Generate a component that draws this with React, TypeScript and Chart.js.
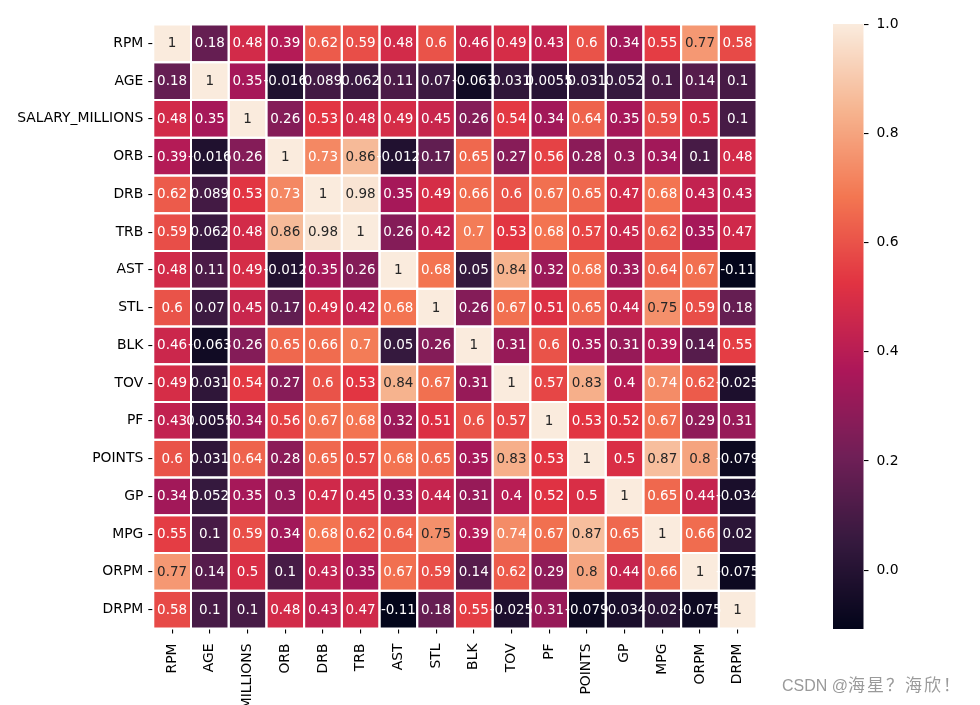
import React, { useEffect, useRef } from "react";
import { Chart, registerables } from "chart.js";

Chart.register(...registerables);

// ---------- data ----------
const variables = [
  "RPM", "AGE", "SALARY_MILLIONS", "ORB", "DRB", "TRB", "AST", "STL",
  "BLK", "TOV", "PF", "POINTS", "GP", "MPG", "ORPM", "DRPM",
];

const rowRPM = [1, 0.18, 0.48, 0.39, 0.62, 0.59, 0.48, 0.6, 0.46, 0.49, 0.43, 0.6, 0.34, 0.55, 0.77, 0.58];
const rowAGE = [0.18, 1, 0.35, -0.016, 0.089, 0.062, 0.11, 0.07, -0.063, 0.031, 0.0055, 0.031, 0.052, 0.1, 0.14, 0.1];
const rowSALARY = [0.48, 0.35, 1, 0.26, 0.53, 0.48, 0.49, 0.45, 0.26, 0.54, 0.34, 0.64, 0.35, 0.59, 0.5, 0.1];
const rowORB = [0.39, -0.016, 0.26, 1, 0.73, 0.86, -0.012, 0.17, 0.65, 0.27, 0.56, 0.28, 0.3, 0.34, 0.1, 0.48];
const rowDRB = [0.62, 0.089, 0.53, 0.73, 1, 0.98, 0.35, 0.49, 0.66, 0.6, 0.67, 0.65, 0.47, 0.68, 0.43, 0.43];
const rowTRB = [0.59, 0.062, 0.48, 0.86, 0.98, 1, 0.26, 0.42, 0.7, 0.53, 0.68, 0.57, 0.45, 0.62, 0.35, 0.47];
const rowAST = [0.48, 0.11, 0.49, -0.012, 0.35, 0.26, 1, 0.68, 0.05, 0.84, 0.32, 0.68, 0.33, 0.64, 0.67, -0.11];
const rowSTL = [0.6, 0.07, 0.45, 0.17, 0.49, 0.42, 0.68, 1, 0.26, 0.67, 0.51, 0.65, 0.44, 0.75, 0.59, 0.18];
const rowBLK = [0.46, -0.063, 0.26, 0.65, 0.66, 0.7, 0.05, 0.26, 1, 0.31, 0.6, 0.35, 0.31, 0.39, 0.14, 0.55];
const rowTOV = [0.49, 0.031, 0.54, 0.27, 0.6, 0.53, 0.84, 0.67, 0.31, 1, 0.57, 0.83, 0.4, 0.74, 0.62, -0.025];
const rowPF = [0.43, 0.0055, 0.34, 0.56, 0.67, 0.68, 0.32, 0.51, 0.6, 0.57, 1, 0.53, 0.52, 0.67, 0.29, 0.31];
const rowPOINTS = [0.6, 0.031, 0.64, 0.28, 0.65, 0.57, 0.68, 0.65, 0.35, 0.83, 0.53, 1, 0.5, 0.87, 0.8, -0.079];
const rowGP = [0.34, 0.052, 0.35, 0.3, 0.47, 0.45, 0.33, 0.44, 0.31, 0.4, 0.52, 0.5, 1, 0.65, 0.44, -0.034];
const rowMPG = [0.55, 0.1, 0.59, 0.34, 0.68, 0.62, 0.64, 0.75, 0.39, 0.74, 0.67, 0.87, 0.65, 1, 0.66, 0.02];
const rowORPM = [0.77, 0.14, 0.5, 0.1, 0.43, 0.35, 0.67, 0.59, 0.14, 0.62, 0.29, 0.8, 0.44, 0.66, 1, -0.075];
const rowDRPM = [0.58, 0.1, 0.1, 0.48, 0.43, 0.47, -0.11, 0.18, 0.55, -0.025, 0.31, -0.079, -0.034, 0.02, -0.075, 1];

const matrix = [
  rowRPM, rowAGE, rowSALARY, rowORB, rowDRB, rowTRB, rowAST, rowSTL,
  rowBLK, rowTOV, rowPF, rowPOINTS, rowGP, rowMPG, rowORPM, rowDRPM,
];

const colorbarTicks = [0, 0.2, 0.4, 0.6, 0.8, 1.0];
const V_MIN = -0.107;
const V_MAX = 1.0;

// ---------- colour map (seaborn "rocket") ----------
const rocket: [number, [number, number, number]][] = [
  [0 / 7, [3, 5, 26]],
  [1 / 7, [53, 25, 62]],
  [2 / 7, [112, 31, 87]],
  [3 / 7, [173, 23, 89]],
  [4 / 7, [225, 51, 66]],
  [5 / 7, [243, 118, 81]],
  [6 / 7, [246, 180, 143]],
  [7 / 7, [250, 235, 221]],
];

function rocketRGB(v: number): [number, number, number] {
  let t = (v - V_MIN) / (V_MAX - V_MIN);
  t = Math.max(0, Math.min(1, t));
  for (let i = 1; i < rocket.length; i++) {
    const [t1, c1] = rocket[i];
    const [t0, c0] = rocket[i - 1];
    if (t <= t1) {
      const f = (t - t0) / (t1 - t0);
      return [
        c0[0] + (c1[0] - c0[0]) * f,
        c0[1] + (c1[1] - c0[1]) * f,
        c0[2] + (c1[2] - c0[2]) * f,
      ];
    }
  }
  return rocket[rocket.length - 1][1];
}

function rgbStr(c: [number, number, number]) {
  return `rgb(${Math.round(c[0])},${Math.round(c[1])},${Math.round(c[2])})`;
}

function luminance(c: [number, number, number]) {
  const lin = (x: number) => {
    const s = x / 255;
    return s <= 0.03928 ? s / 12.92 : Math.pow((s + 0.055) / 1.055, 2.4);
  };
  return 0.2126 * lin(c[0]) + 0.7152 * lin(c[1]) + 0.0722 * lin(c[2]);
}

function fmt2g(v: number) {
  return String(Number(v.toPrecision(2)));
}

const FONT = "'DejaVu Sans', sans-serif";

// ---------- plugins ----------
const heatmapPlugin = {
  id: "heatmapCells",
  beforeDatasetsDraw(chart: any) {
    const ctx = chart.ctx;
    const xs = chart.scales.x;
    const ys = chart.scales.y;
    const pts = chart.data.datasets[0].data as any[];
    ctx.save();
    for (const p of pts) {
      const x0 = xs.getPixelForValue(p.x - 0.5);
      const x1 = xs.getPixelForValue(p.x + 0.5);
      const y0 = ys.getPixelForValue(p.y - 0.5);
      const y1 = ys.getPixelForValue(p.y + 0.5);
      ctx.fillStyle = rgbStr(rocketRGB(p.v));
      ctx.fillRect(Math.min(x0, x1), Math.min(y0, y1), Math.abs(x1 - x0), Math.abs(y1 - y0));
    }
    ctx.strokeStyle = "#ffffff";
    ctx.lineWidth = 2;
    for (const p of pts) {
      const x0 = xs.getPixelForValue(p.x - 0.5);
      const x1 = xs.getPixelForValue(p.x + 0.5);
      const y0 = ys.getPixelForValue(p.y - 0.5);
      const y1 = ys.getPixelForValue(p.y + 0.5);
      ctx.strokeRect(Math.min(x0, x1), Math.min(y0, y1), Math.abs(x1 - x0), Math.abs(y1 - y0));
    }
    ctx.restore();
  },
  afterDatasetsDraw(chart: any) {
    const ctx = chart.ctx;
    const xs = chart.scales.x;
    const ys = chart.scales.y;
    const pts = chart.data.datasets[0].data as any[];
    ctx.save();
    ctx.font = `13.5px ${FONT}`;
    ctx.textAlign = "center";
    ctx.textBaseline = "middle";
    for (const p of pts) {
      const c = rocketRGB(p.v);
      ctx.fillStyle = luminance(c) > 0.4 ? "#262626" : "#ffffff";
      ctx.fillText(fmt2g(p.v), xs.getPixelForValue(p.x), ys.getPixelForValue(p.y) + 0.5);
    }
    ctx.restore();
  },
};

const colorbarPlugin = {
  id: "colorbarFill",
  beforeDatasetsDraw(chart: any) {
    const ctx = chart.ctx;
    const ys = chart.scales.y;
    const area = chart.chartArea;
    ctx.save();
    const top = Math.floor(area.top);
    const bottom = Math.ceil(area.bottom);
    for (let py = top; py < bottom; py++) {
      const v = ys.getValueForPixel(py + 0.5);
      ctx.fillStyle = rgbStr(rocketRGB(v));
      ctx.fillRect(area.left, py, area.right - area.left, 1);
    }
    ctx.restore();
  },
};

const tickFont = { family: FONT, size: 13.9 };

export default function App() {
  const mainRef = useRef<HTMLCanvasElement>(null);
  const barRef = useRef<HTMLCanvasElement>(null);

  useEffect(() => {
    const cells: any[] = [];
    matrix.forEach((row, r) =>
      row.forEach((v, c) => cells.push({ x: c + 0.5, y: r + 0.5, v }))
    );
    const centerTicks = (scale: any) => {
      scale.ticks = variables.map((_, i) => ({ value: i + 0.5 }));
    };
    const labelFor = (v: any) => variables[Math.floor(Number(v))];

    const main = new Chart(mainRef.current!, {
      type: "scatter",
      data: { datasets: [{ data: cells, pointRadius: 0, pointHoverRadius: 0 }] },
      plugins: [heatmapPlugin],
      options: {
        animation: false,
        responsive: false,
        events: [],
        layout: { padding: { left: 0, top: 24.5, right: 223.5, bottom: 0 } },
        plugins: { legend: { display: false }, tooltip: { enabled: false } },
        scales: {
          x: {
            type: "linear",
            position: "bottom",
            min: 0,
            max: variables.length,
            afterBuildTicks: centerTicks,
            afterFit: (s: any) => { s.height = 76.5; },
            border: { display: false },
            grid: { display: true, drawOnChartArea: false, drawTicks: true, tickLength: 5, color: "#000", lineWidth: 1.1 },
            ticks: {
              autoSkip: false,
              minRotation: 90,
              maxRotation: 90,
              padding: 10,
              color: "#000",
              font: tickFont,
              callback: labelFor,
            },
          },
          y: {
            type: "linear",
            position: "left",
            reverse: true,
            min: 0,
            max: variables.length,
            afterBuildTicks: centerTicks,
            afterFit: (s: any) => { s.width = 153.3; },
            border: { display: false },
            grid: { display: true, drawOnChartArea: false, drawTicks: true, tickLength: 5, color: "#000", lineWidth: 1.1 },
            ticks: {
              autoSkip: false,
              padding: 5,
              color: "#000",
              font: tickFont,
              callback: labelFor,
            },
          },
        },
      },
    } as any);

    const bar = new Chart(barRef.current!, {
      type: "scatter",
      data: { datasets: [{ data: [], pointRadius: 0 }] },
      plugins: [colorbarPlugin],
      options: {
        animation: false,
        responsive: false,
        events: [],
        layout: { padding: { left: 833, top: 24.5, right: 0, bottom: 76.5 } },
        plugins: { legend: { display: false }, tooltip: { enabled: false } },
        scales: {
          x: { type: "linear", display: false, min: 0, max: 1 },
          y: {
            type: "linear",
            position: "right",
            min: V_MIN,
            max: V_MAX,
            afterBuildTicks: (s: any) => { s.ticks = colorbarTicks.map((v) => ({ value: v })); },
            afterFit: (s: any) => { s.width = 980 - 863.5; },
            border: { display: false },
            grid: { display: true, drawOnChartArea: false, drawTicks: true, tickLength: 5, color: "#000", lineWidth: 1.1 },
            ticks: {
              padding: 8,
              color: "#000",
              font: tickFont,
              callback: (v: any) => Number(v).toFixed(1),
            },
          },
        },
      },
    } as any);

    return () => {
      main.destroy();
      bar.destroy();
    };
  }, []);

  return (
    <div style={{ position: "fixed", left: 0, top: 0, width: 980, height: 705, background: "#fff", overflow: "hidden" }}>
      <canvas ref={mainRef} width={980} height={705} style={{ position: "absolute", left: 0, top: 0 }} />
      <canvas ref={barRef} width={980} height={705} style={{ position: "absolute", left: 0, top: 0 }} />
      <div
        style={{
          position: "absolute",
          left: 782,
          top: 675,
          fontFamily: "'Liberation Sans', 'Noto Sans CJK SC', sans-serif",
          fontSize: 16,
          lineHeight: "18px",
          color: "#9a9a9a",
          whiteSpace: "nowrap",
        }}
      >
        CSDN @<span style={{ fontFamily: "'Noto Sans CJK SC', sans-serif", fontSize: 17, letterSpacing: 2 }}>海星？海欣！</span>
      </div>
    </div>
  );
}
